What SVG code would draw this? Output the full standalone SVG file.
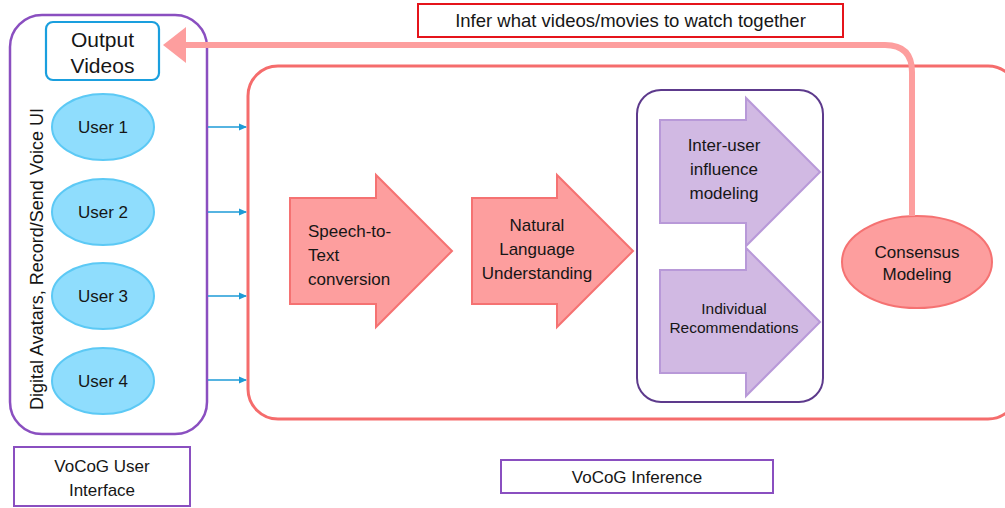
<svg xmlns="http://www.w3.org/2000/svg" width="1005" height="508" viewBox="0 0 1005 508">
<style>
text{font-family:"Liberation Sans",Arial,sans-serif;fill:#161616;}
.t17{font-size:17px;}
.t18{font-size:18px;}
.t14{font-size:15.5px;}
.purple{fill:#fff;stroke:#8a4fc0;stroke-width:2.5;}
.user{fill:#8fddfd;stroke:#5cc9f5;stroke-width:2;}
.pink{fill:#fd9e9e;stroke:#f57272;stroke-width:2;}
.lav{fill:#d1b9e3;stroke:#b899d8;stroke-width:2;}
.blue{stroke:#1e9bd7;stroke-width:1.5;fill:none;}
</style>
<defs>
<marker id="ab" markerWidth="8" markerHeight="8" refX="7" refY="4" orient="auto" markerUnits="userSpaceOnUse">
<path d="M0,0.5 L8,4 L0,7.5 Z" fill="#1e9bd7"/>
</marker>
</defs>

<g id="ui-panel">
<rect x="10" y="15" width="197" height="419" rx="32" class="purple"/>
<text class="t18" transform="translate(43,259) rotate(-90)" text-anchor="middle">Digital Avatars, Record/Send Voice UI</text>
</g>

<g id="output-videos">
<rect x="46" y="22" width="113" height="58" rx="7" fill="#fff" stroke="#1a9fde" stroke-width="2.2"/>
<text x="102.5" y="47" text-anchor="middle" font-size="21">Output</text>
<text x="102.5" y="73" text-anchor="middle" font-size="21">Videos</text>
</g>

<g id="user1"><ellipse cx="103" cy="127" rx="51" ry="33" class="user"/><text class="t17" x="103" y="133" text-anchor="middle">User 1</text></g>
<g id="user2"><ellipse cx="103" cy="212" rx="51" ry="33" class="user"/><text class="t17" x="103" y="218" text-anchor="middle">User 2</text></g>
<g id="user3"><ellipse cx="103" cy="296" rx="51" ry="33" class="user"/><text class="t17" x="103" y="302" text-anchor="middle">User 3</text></g>
<g id="user4"><ellipse cx="103" cy="381" rx="51" ry="33" class="user"/><text class="t17" x="103" y="387" text-anchor="middle">User 4</text></g>

<g id="inference-panel">
<rect x="248" y="66" width="770" height="353" rx="30" fill="none" stroke="#f56c6c" stroke-width="3"/>
</g>

<g id="inner-box">
<rect x="637" y="90" width="186" height="312" rx="24" fill="none" stroke="#5d3a8c" stroke-width="2"/>
</g>

<g id="stt">
<path d="M290,198 H376 V175 L452,251 L376,327 V304 H290 Z" class="pink"/>
<text class="t17" x="308" y="237">Speech-to-</text>
<text class="t17" x="308" y="261">Text</text>
<text class="t17" x="308" y="285">conversion</text>
</g>

<g id="nlu">
<path d="M472,198 H557 V175 L633,251 L557,327 V304 H472 Z" class="pink"/>
<text class="t17" x="537" y="231" text-anchor="middle">Natural</text>
<text class="t17" x="537" y="255" text-anchor="middle">Language</text>
<text class="t17" x="537" y="279" text-anchor="middle">Understanding</text>
</g>

<g id="inter-user">
<path d="M660,120 H746 V98 L820,172 L746,246 V223 H660 Z" class="lav"/>
<text class="t17" x="724" y="151" text-anchor="middle">Inter-user</text>
<text class="t17" x="724" y="175" text-anchor="middle">influence</text>
<text class="t17" x="724" y="199" text-anchor="middle">modeling</text>
</g>

<g id="individual">
<path d="M660,270 H746 V248 L820,322 L746,396 V373 H660 Z" class="lav"/>
<text class="t14" x="734" y="314" text-anchor="middle">Individual</text>
<text class="t14" x="734" y="333" text-anchor="middle">Recommendations</text>
</g>

<g id="consensus">
<ellipse cx="917" cy="262" rx="75" ry="46" class="pink"/>
<text class="t17" x="917" y="258" text-anchor="middle">Consensus</text>
<text class="t17" x="917" y="280" text-anchor="middle">Modeling</text>
</g>

<g id="infer-label">
<rect x="418" y="4" width="425" height="33" fill="#fff" stroke="#e5141b" stroke-width="2"/>
<text x="630.5" y="27" text-anchor="middle" font-size="18.5">Infer what videos/movies to watch together</text>
</g>

<g id="ui-label">
<rect x="14" y="447" width="176" height="59" fill="#fff" stroke="#8a4fc0" stroke-width="2"/>
<text class="t17" x="102" y="472" text-anchor="middle">VoCoG User</text>
<text class="t17" x="102" y="496" text-anchor="middle">Interface</text>
</g>

<g id="inference-label">
<rect x="501" y="460" width="272" height="33" fill="#fff" stroke="#8a4fc0" stroke-width="2"/>
<text class="t17" x="637" y="483" text-anchor="middle">VoCoG Inference</text>
</g>

<g id="connectors">
<line x1="208" y1="127" x2="246" y2="127" class="blue" marker-end="url(#ab)"/>
<line x1="208" y1="212" x2="246" y2="212" class="blue" marker-end="url(#ab)"/>
<line x1="208" y1="296" x2="246" y2="296" class="blue" marker-end="url(#ab)"/>
<line x1="208" y1="380" x2="246" y2="380" class="blue" marker-end="url(#ab)"/>
<path d="M912,216 V72 Q912,45 885,45 H184" fill="none" stroke="#fd9e9e" stroke-width="6"/>
<path d="M163,45 L186,27 L186,63 Z" fill="#fd9e9e"/>
</g>
</svg>
